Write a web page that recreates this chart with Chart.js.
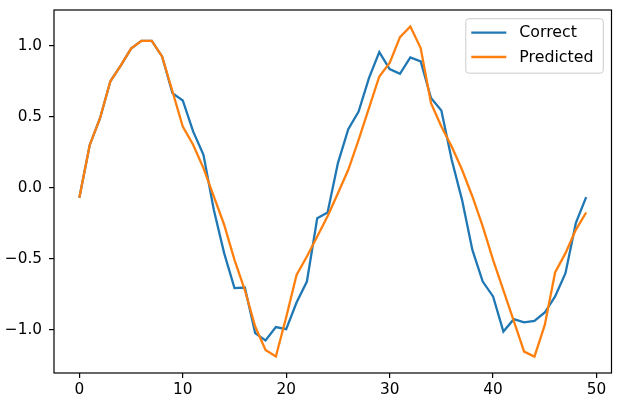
<!DOCTYPE html>
<html>
<head>
<meta charset="utf-8">
<script src="https://cdn.jsdelivr.net/npm/chart.js@4/dist/chart.umd.min.js"></script>
<style>
  html, body { margin: 0; padding: 0; background: #fff; }
  canvas { display: block; }
</style>
</head>
<body>
<canvas id="chart" width="626" height="415"></canvas>
<script>
// time steps 0..49
const steps = [0, 1, 2, 3, 4, 5, 6, 7, 8, 9, 10, 11, 12, 13, 14, 15, 16, 17, 18, 19,
    20, 21, 22, 23, 24, 25, 26, 27, 28, 29, 30, 31, 32, 33, 34, 35, 36, 37, 38, 39,
    40, 41, 42, 43, 44, 45, 46, 47, 48, 49];

const correct = [-0.07, 0.30, 0.49, 0.75, 0.86, 0.98, 1.035, 1.035, 0.925, 0.667,
    0.615, 0.397, 0.232, -0.155, -0.46, -0.706, -0.702, -1.023, -1.075, -0.981,
    -0.995, -0.808, -0.66, -0.214, -0.174, 0.174, 0.413, 0.537, 0.772, 0.955,
    0.836, 0.803, 0.918, 0.89, 0.632, 0.545, 0.197, -0.085, -0.437, -0.66,
    -0.765, -1.012, -0.925, -0.948, -0.937, -0.878, -0.765, -0.601, -0.249, -0.066];

const predicted = [-0.07, 0.30, 0.49, 0.75, 0.86, 0.98, 1.035, 1.035, 0.925, 0.68,
    0.432, 0.303, 0.139, -0.061, -0.26, -0.507, -0.72, -0.977, -1.141, -1.188,
    -0.911, -0.613, -0.484, -0.343, -0.20, -0.038, 0.127, 0.338, 0.561, 0.784,
    0.88, 1.061, 1.136, 0.984, 0.596, 0.432, 0.291, 0.127, -0.061, -0.272,
    -0.507, -0.723, -0.937, -1.153, -1.188, -0.965, -0.596, -0.46, -0.296, -0.174];

const seriesLabels = ["Correct", "Predicted"];
const xTicks = [0, 10, 20, 30, 40, 50];
const yTicks = [-1.0, -0.5, 0.0, 0.5, 1.0];

const FONT = "DejaVu Sans";

function toPoints(values) {
    return values.map((v, i) => ({ x: steps[i], y: v }));
}

function minusSign(v) {
    return v.toFixed(1).replace("-", "\u2212");
}

// frame around the plot, like matplotlib spines
const framePlugin = {
    id: "frame",
    afterDraw(chart) {
        const { ctx, chartArea } = chart;
        ctx.save();
        ctx.strokeStyle = "#000";
        ctx.lineWidth = 1.2;
        ctx.strokeRect(chartArea.left, chartArea.top,
            chartArea.right - chartArea.left, chartArea.bottom - chartArea.top);
        ctx.restore();
    },
};

// legend box in the upper right corner of the plot
const legendPlugin = {
    id: "cornerLegend",
    afterDraw(chart) {
        const { ctx, chartArea } = chart;
        const boxW = 137.5, boxH = 54.5;
        const x = chartArea.right - 8.2 - boxW;
        const y = chartArea.top + 8.7;
        ctx.save();
        ctx.beginPath();
        ctx.roundRect(x, y, boxW, boxH, 3);
        ctx.fillStyle = "rgba(255,255,255,0.8)";
        ctx.fill();
        ctx.strokeStyle = "#cccccc";
        ctx.lineWidth = 1;
        ctx.stroke();
        ctx.font = "15.8px '" + FONT + "'";
        ctx.textBaseline = "middle";
        ctx.fillStyle = "#000";
        chart.data.datasets.forEach((ds, i) => {
            const rowY = y + 14 + i * 24.3;
            ctx.beginPath();
            ctx.moveTo(x + 5.5, rowY);
            ctx.lineTo(x + 40.5, rowY);
            ctx.strokeStyle = ds.borderColor;
            ctx.lineWidth = 2.3;
            ctx.stroke();
            ctx.fillText(ds.label, x + 53.5, rowY + 0.5);
        });
        ctx.restore();
    },
};

new Chart(document.getElementById("chart"), {
    type: "line",
    data: {
        datasets: [
            {
                label: seriesLabels[0],
                data: toPoints(correct),
                borderColor: "#1f77b4",
                borderWidth: 2.3,
                pointRadius: 0,
                tension: 0,
                fill: false,
                order: 2,
            },
            {
                label: seriesLabels[1],
                data: toPoints(predicted),
                borderColor: "#ff7f0e",
                borderWidth: 2.3,
                pointRadius: 0,
                tension: 0,
                fill: false,
                order: 1,
            },
        ],
    },
    options: {
        responsive: false,
        animation: false,
        devicePixelRatio: 1,
        layout: { padding: { left: 0, right: 14.5, top: 10, bottom: 0 } },
        plugins: {
            legend: { display: false },
            tooltip: { enabled: false },
        },
        scales: {
            x: {
                type: "linear",
                min: -2.45,
                max: 51.45,
                afterBuildTicks: (axis) => {
                    axis.ticks = xTicks.map((v) => ({ value: v }));
                },
                afterFit: (scale) => {
                    scale.height = 42;
                    scale.paddingLeft = 0;
                    scale.paddingRight = 0;
                },
                grid: {
                    drawOnChartArea: false,
                    drawTicks: true,
                    tickLength: 5,
                    color: "#000",
                    lineWidth: 1.2,
                },
                border: { display: false },
                ticks: {
                    color: "#000",
                    font: { family: FONT, size: 15.3 },
                    padding: 3,
                    maxRotation: 0,
                    callback: (v) => String(v),
                },
            },
            y: {
                type: "linear",
                min: -1.304,
                max: 1.252,
                afterBuildTicks: (axis) => {
                    axis.ticks = yTicks.map((v) => ({ value: v }));
                },
                afterFit: (scale) => {
                    scale.width = 54;
                    scale.paddingTop = 0;
                    scale.paddingBottom = 0;
                },
                grid: {
                    drawOnChartArea: false,
                    drawTicks: true,
                    tickLength: 5,
                    color: "#000",
                    lineWidth: 1.2,
                },
                border: { display: false },
                ticks: {
                    color: "#000",
                    font: { family: FONT, size: 15.3 },
                    padding: 7,
                    callback: (v) => minusSign(v),
                },
            },
        },
    },
    plugins: [framePlugin, legendPlugin],
});
</script>
</body>
</html>
